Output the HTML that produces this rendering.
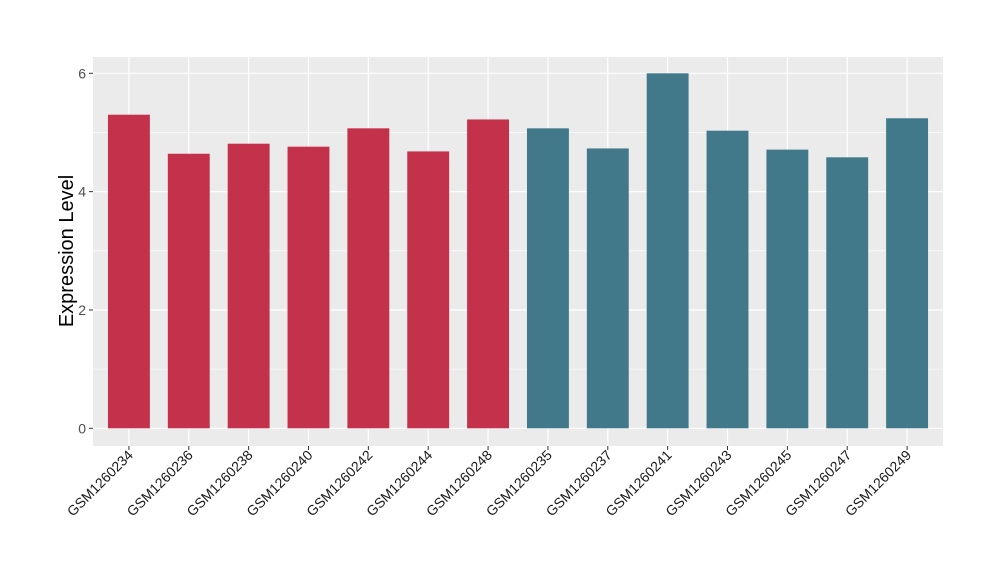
<!DOCTYPE html>
<html><head><meta charset="utf-8"><style>
body{margin:0;background:#fff;font-family:"Liberation Sans",Arial,sans-serif}
svg{display:block}
</style></head><body>
<svg id="chart" width="1000" height="580" xmlns="http://www.w3.org/2000/svg">
<rect x="93" y="57" width="850" height="389" fill="#ebebeb"/>
<g id="grid"></g><g id="bars"></g><g id="axes"></g>
<text transform="translate(73,251) rotate(-90)" text-anchor="middle" font-size="20" fill="#000">Expression Level</text>
</svg>
<script>
const categories=["GSM1260234","GSM1260236","GSM1260238","GSM1260240","GSM1260242","GSM1260244","GSM1260248","GSM1260235","GSM1260237","GSM1260241","GSM1260243","GSM1260245","GSM1260247","GSM1260249"];
const values=[5.3,4.64,4.81,4.76,5.07,4.68,5.22,5.07,4.73,6.0,5.03,4.71,4.58,5.24];
const groups=["a","a","a","a","a","a","a","b","b","b","b","b","b","b"];
const yTicks=[0,2,4,6];
const colors={a:"#c3314a",b:"#41798b"};
const NS="http://www.w3.org/2000/svg";
const L=93,R=943,T=57,B=446;
const y0=428.3,y6=73.3;
function y(v){return y0+(y6-y0)*v/6;}
const step=(R-L)/(categories.length+0.2);
function x(i){return L+step*(0.6+i);}
const bw=step*0.7;
function mk(tag,attrs,parent){const e=document.createElementNS(NS,tag);for(const k in attrs)e.setAttribute(k,attrs[k]);parent.appendChild(e);return e;}
const grid=document.getElementById('grid'),bars=document.getElementById('bars'),axes=document.getElementById('axes');
for(let k=0;k<yTicks.length-1;k++){const m=(yTicks[k]+yTicks[k+1])/2;
 const g=mk('line',{x1:L,x2:R,y1:y(m),y2:y(m),stroke:'#fff','stroke-width':0.6},grid);
 
 }
yTicks.forEach(t=>{
 const g=mk('line',{x1:L,x2:R,y1:y(t),y2:y(t),stroke:'#fff','stroke-width':1.2},grid);
 
 
 const tk=mk('line',{x1:L-4,x2:L,y1:y(t),y2:y(t),stroke:'#333','stroke-width':1},axes);
 
 
 const tx=mk('text',{x:L-7,y:y(t)+5,'text-anchor':'end','font-size':14,fill:'#4d4d4d'},axes);
 tx.textContent=t;
 
 
});
categories.forEach((c,i)=>{
 const g=mk('line',{x1:x(i),x2:x(i),y1:T,y2:B,stroke:'#fff','stroke-width':1.2},grid);
 
 
 const b=mk('rect',{x:x(i)-bw/2,y:y(values[i]),width:bw,height:y(0)-y(values[i]),fill:colors[groups[i]]},bars);
 
 
 const tk=mk('line',{x1:x(i),x2:x(i),y1:B,y2:B+4,stroke:'#333','stroke-width':1},axes);
 
 
 const tx=mk('text',{transform:`translate(${x(i)+5},${B+10}) rotate(-45)`,'text-anchor':'end','font-size':14,fill:'#1a1a1a'},axes);
 tx.textContent=c;
 
 
});
</script>
</body></html>
